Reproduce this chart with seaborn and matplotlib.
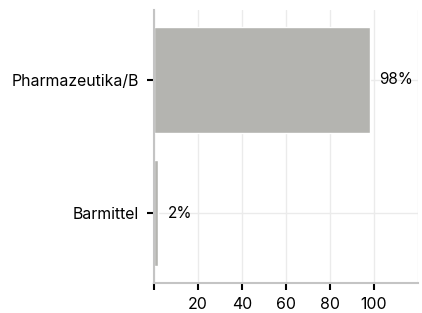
import matplotlib
matplotlib.use("Agg")
import matplotlib.pyplot as plt
import seaborn as sns
import pandas as pd

# données
categories = ["Pharmazeutika/B", "Barmittel"]
valeurs = [98, 2]
etiquettes = ["98%", "2%"]

sns.set_style("white")
plt.rcParams['font.family'] = ['Inter', 'DejaVu Sans']

df = pd.DataFrame({"categorie": categories, "valeur": valeurs})

fig, ax = plt.subplots(figsize=(4.22, 3.13), dpi=100)
fig.subplots_adjust(left=154/422, right=418/422, top=1-10/313, bottom=1-283/313)

sns.barplot(data=df, y="categorie", x="valeur", color="#b4b4b0", saturation=1,
            width=0.8, ax=ax, zorder=2)

ax.bar_label(ax.containers[0], labels=etiquettes, padding=7, fontsize=11,
             color="black")

ax.set_xlim(0, 120)
ax.set_ylim(1.526, -0.526)
ax.set_xticks([0, 20, 40, 60, 80, 100, 120])
ax.set_xticklabels(["", "20", "40", "60", "80", "100", ""])
ax.set_xlabel("")
ax.set_ylabel("")

ax.grid(True, color="#ebebeb", linewidth=1, zorder=0)
ax.set_axisbelow(True)

for s in ["top", "right"]:
    ax.spines[s].set_visible(False)
for s in ["left", "bottom"]:
    ax.spines[s].set_color("#c4c4c4")
    ax.spines[s].set_linewidth(1.5)

ax.tick_params(axis="both", which="both", length=5, width=1.5, color="black",
               labelsize=11.4, labelcolor="black", bottom=True, left=True)
ax.tick_params(axis="y", pad=6)
ax.tick_params(axis="x", pad=5)
# pas de tick à 120 en bas
ax.xaxis.get_major_ticks()[-1].tick1line.set_visible(False)

plt.savefig("out.png", dpi=100)
plt.close()
